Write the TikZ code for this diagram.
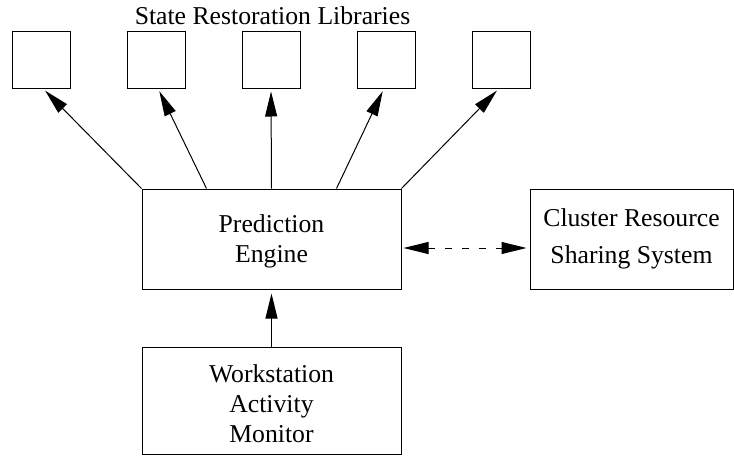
\documentclass[tikz,border=0pt]{standalone}
\usepackage{fontspec}
\setmainfont{Liberation Serif}
\usetikzlibrary{arrows.meta,calc}
\begin{document}
\begin{tikzpicture}[x=1pt,y=-1pt,
  every node/.style={font=\fontsize{25.7pt}{30pt}\selectfont},
  libbox/.style={draw, line width=1pt, minimum width=58pt, minimum height=57pt, inner sep=0pt},
  bigbox/.style={draw, line width=1pt, inner sep=0pt, align=center},
  arr/.style={line width=1pt, -{Triangle[length=25pt,width=12pt]}},
  darr/.style={line width=1pt, dash pattern=on 7pt off 10pt, {Triangle[length=25pt,width=12pt]}-{Triangle[length=25pt,width=12pt]}}
]
\useasboundingbox (0,0) rectangle (734,464);
\node[anchor=base] (title) at (272.5,24) {State Restoration Libraries};
\node[libbox] (lib1) at (41,59.5) {};
\node[libbox] (lib2) at (156,59.5) {};
\node[libbox] (lib3) at (271,59.5) {};
\node[libbox] (lib4) at (386,59.5) {};
\node[libbox] (lib5) at (501,59.5) {};
\node[bigbox, minimum width=259pt, minimum height=100pt] (pe) at (271.5,239)
  {\rule{0pt}{21.6pt}Prediction\\Engine};
\node[bigbox, minimum width=259pt, minimum height=107pt] (wam) at (271.5,400.5)
  {\rule{0pt}{24.6pt}Workstation\\Activity\\Monitor};
\node[bigbox, minimum width=203pt, minimum height=100pt] (cr) at (631.5,239)
  {Cluster Resource\\[7pt]Sharing System};
\draw[arr, shorten >=3pt] (pe.north west) -- ([xshift=2pt]lib1.south);
\draw[arr, shorten >=3pt] ($(pe.north west)!0.25!(pe.north east)$) -- ([xshift=2pt]lib2.south);
\draw[arr, shorten >=3pt] (pe.north) -- (lib3.south);
\draw[arr, shorten >=3pt] ($(pe.north west)!0.75!(pe.north east)$) -- ([xshift=-2pt]lib4.south);
\draw[arr, shorten >=3pt] (pe.north east) -- ([xshift=-2pt]lib5.south);
\draw[arr, shorten >=4pt] (wam.north) -- (pe.south);
\draw[darr, shorten <=2pt, shorten >=3pt] ([yshift=-9pt]pe.east) -- ([yshift=-9pt]cr.west);
\end{tikzpicture}
\end{document}
